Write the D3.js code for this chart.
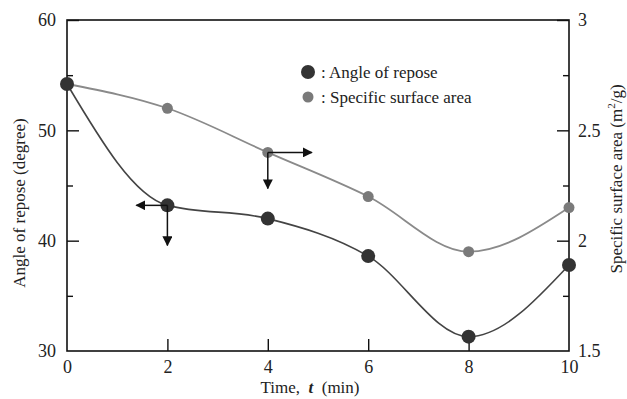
<!DOCTYPE html>
<html>
<head>
<meta charset="utf-8">
<script src="https://cdn.jsdelivr.net/npm/d3@7"></script>
<style>
  body { margin: 0; background: #fff; }
  svg text { font-family: "Liberation Serif", "DejaVu Serif", serif !important; fill: #222; }
</style>
</head>
<body>
<div id="chart"></div>
<script>
// Data
const times = [0, 2, 4, 6, 8, 10];
const angleOfRepose = [54.2, 43.2, 42.0, 38.6, 31.3, 37.8];      // degree, left axis
const surfaceArea = [2.71, 2.60, 2.40, 2.20, 1.95, 2.15];        // m2/g, right axis
const xTicks = [0, 2, 4, 6, 8, 10];
const leftTicks = [30, 40, 50, 60];
const leftMinor = [35, 45, 55];
const rightTicks = [1.5, 2, 2.5, 3];
const rightMinor = [1.75, 2.25, 2.75];

const W = 627, H = 399;
const margin = { top: 20, right: 58, bottom: 48, left: 67 };
const width = W - margin.left - margin.right;
const height = H - margin.top - margin.bottom;

const svg = d3.select("#chart")
    .append("svg")
    .attr("width", W)
    .attr("height", H)
    .append("g")
    .attr("transform", "translate(" + margin.left + "," + margin.top + ")");

const x = d3.scaleLinear().domain([0, 10]).range([0, width]);
const yL = d3.scaleLinear().domain([30, 60]).range([height, 0]);
const yR = d3.scaleLinear().domain([1.5, 3]).range([height, 0]);

// Frame
svg.append("rect")
    .attr("width", width)
    .attr("height", height)
    .attr("fill", "none")
    .attr("stroke", "#111")
    .attr("stroke-width", 1.6);

// Axes with inward ticks
const fmtR = d => d === 3 || d === 2 ? String(d) : d3.format(".1f")(d);

const xAxis = svg.append("g")
    .attr("transform", "translate(0," + height + ")")
    .call(d3.axisBottom(x).tickValues(xTicks).tickSizeInner(-12).tickSizeOuter(0).tickPadding(9));

const lAxis = svg.append("g")
    .call(d3.axisLeft(yL).tickValues(leftTicks).tickSizeInner(-12).tickSizeOuter(0).tickPadding(11));
svg.append("g")
    .call(d3.axisLeft(yL).tickValues(leftMinor).tickSize(-6).tickFormat(""));

const rAxis = svg.append("g")
    .attr("transform", "translate(" + width + ",0)")
    .call(d3.axisRight(yR).tickValues(rightTicks).tickSizeInner(-12).tickSizeOuter(0).tickPadding(9).tickFormat(fmtR));
svg.append("g")
    .attr("transform", "translate(" + width + ",0)")
    .call(d3.axisRight(yR).tickValues(rightMinor).tickSize(-6).tickFormat(""));

svg.selectAll(".domain").remove();
svg.selectAll("g[font-family]").attr("font-family", null);
svg.selectAll(".tick line").attr("stroke", "#111").attr("stroke-width", 1.4);
svg.selectAll(".tick text").style("font-size", "18px").attr("fill", "#222");
// hide end ticks that sit on the frame
xAxis.selectAll(".tick").filter(d => d === 0 || d === 10).select("line").remove();
lAxis.selectAll(".tick").filter(d => d === 30).select("line").remove();
rAxis.selectAll(".tick").filter(d => d === 1.5).select("line").remove();

// Axis titles
svg.append("text")
    .attr("x", 243)
    .attr("y", height + 42)
    .attr("text-anchor", "middle")
    .style("font-size", "17px")
    .html('Time,&#160;&#160;<tspan font-style="italic" font-weight="bold">t</tspan>&#160;&#160;(min)');

svg.append("text")
    .attr("transform", "translate(" + (-42) + "," + 183 + ") rotate(-90)")
    .attr("text-anchor", "middle")
    .style("font-size", "17px")
    .text("Angle of repose (degree)");

svg.append("text")
    .attr("transform", "translate(" + (width + 53) + "," + 159 + ") rotate(-90)")
    .attr("text-anchor", "middle")
    .style("font-size", "17px")
    .html('Specific surface area (m<tspan dy="-7" font-size="11px">2</tspan><tspan dy="7">/g)</tspan>');

// Lines
const lineL = d3.line().x((d, i) => x(times[i])).y(d => yL(d)).curve(d3.curveMonotoneX);
const lineR = d3.line().x((d, i) => x(times[i])).y(d => yR(d)).curve(d3.curveMonotoneX);

svg.append("path")
    .datum(surfaceArea)
    .attr("d", lineR)
    .attr("fill", "none")
    .attr("stroke", "#8a8a8a")
    .attr("stroke-width", 1.8);

svg.append("path")
    .datum(angleOfRepose)
    .attr("d", lineL)
    .attr("fill", "none")
    .attr("stroke", "#444")
    .attr("stroke-width", 1.6);

// Markers
svg.selectAll(".ssa")
    .data(surfaceArea)
    .enter()
    .append("circle")
    .attr("class", "ssa")
    .attr("cx", (d, i) => x(times[i]))
    .attr("cy", d => yR(d))
    .attr("r", 5.5)
    .attr("fill", "#7a7a7a");

svg.selectAll(".aor")
    .data(angleOfRepose)
    .enter()
    .append("circle")
    .attr("class", "aor")
    .attr("cx", (d, i) => x(times[i]))
    .attr("cy", d => yL(d))
    .attr("r", 7)
    .attr("fill", "#333");

// Axis indicator arrows
const defs = svg.append("defs");
defs.append("marker")
    .attr("id", "head")
    .attr("viewBox", "0 0 10 10")
    .attr("refX", 9).attr("refY", 5)
    .attr("markerWidth", 10).attr("markerHeight", 10)
    .attr("markerUnits", "userSpaceOnUse")
    .attr("orient", "auto")
    .append("path")
    .attr("d", "M0,0 L10,5 L0,10 Z")
    .attr("fill", "#111");

function arrow(x1, y1, x2, y2) {
    svg.append("line")
        .attr("x1", x1).attr("y1", y1)
        .attr("x2", x2).attr("y2", y2)
        .attr("stroke", "#111")
        .attr("stroke-width", 1.5)
        .attr("marker-end", "url(#head)");
}
// angle of repose -> left axis
const ax = x(times[1]), ay = yL(angleOfRepose[1]);
arrow(ax, ay, ax - 31, ay);
arrow(ax, ay, ax, ay + 40);
// surface area -> right axis
const sx = x(times[2]), sy = yR(surfaceArea[2]);
arrow(sx, sy, sx + 44, sy);
arrow(sx, sy, sx, sy + 36);

// Legend
const legend = svg.append("g").attr("transform", "translate(241,52)");
legend.append("circle").attr("cx", 0).attr("cy", 0).attr("r", 7).attr("fill", "#333");
legend.append("text").attr("x", 13).attr("y", 6).style("font-size", "17px").text(": Angle of repose");
legend.append("circle").attr("cx", 0).attr("cy", 25).attr("r", 5.5).attr("fill", "#7a7a7a");
legend.append("text").attr("x", 13).attr("y", 31).style("font-size", "17px").text(": Specific surface area");
</script>
</body>
</html>
